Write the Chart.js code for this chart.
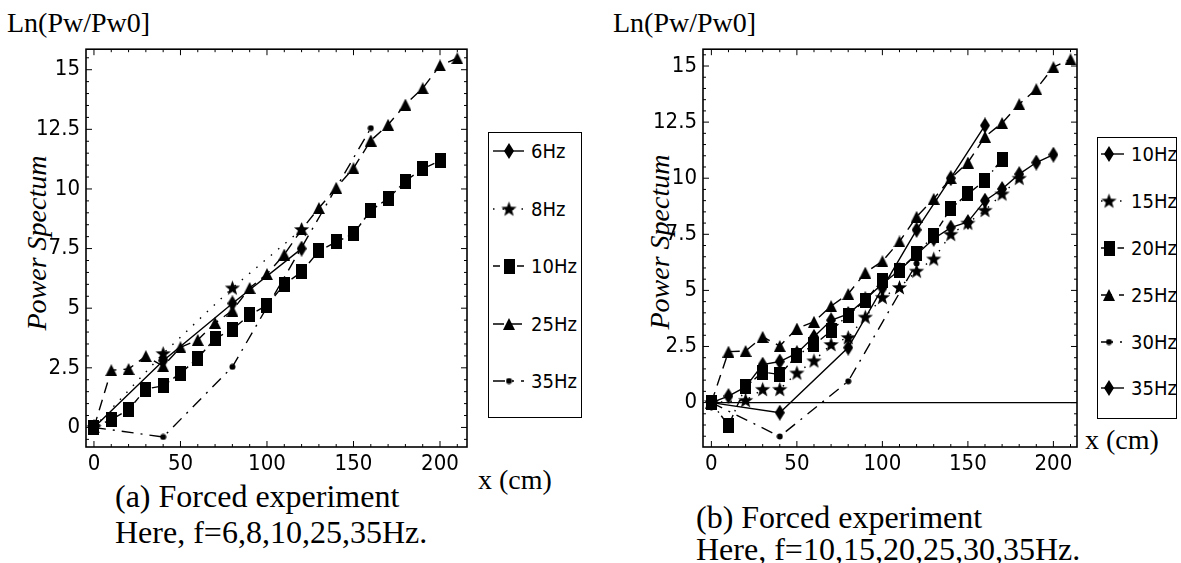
<!DOCTYPE html>
<html><head><meta charset="utf-8">
<script src="https://cdn.jsdelivr.net/npm/chart.js@4.4.0/dist/chart.umd.min.js"></script>
<style>
html,body{margin:0;padding:0;background:#fff}
body{width:1181px;height:563px;position:relative;overflow:hidden;font-family:'Liberation Serif','Times New Roman',serif;color:#000}
.abs{position:absolute;white-space:nowrap;line-height:1}
.t28{font-size:28px}
.t32{font-size:32px}
.ytitle{font-size:28px;font-style:italic;transform:translate(-50%,-50%) rotate(-90deg)}
.cv{position:absolute}
.legend{position:absolute;border:1.5px solid #000;background:#fff;box-sizing:border-box}
.legend canvas{position:absolute}
.legend span{position:absolute;font-family:'Liberation Sans Narrow','DejaVu Sans Condensed','DejaVu Sans Mono',sans-serif;font-size:20px;line-height:1;transform:translateY(-50%)}
</style>
</head><body>

<div class="abs t28" style="left:7px;top:9px">Ln(Pw/Pw0]</div>
<div class="abs t28" style="left:613px;top:9px">Ln(Pw/Pw0]</div>
<div class="abs ytitle" style="left:37px;top:243px">Power Spectum</div>
<div class="abs ytitle" style="left:660px;top:242px">Power Spectum</div>
<div class="abs t28" style="left:478px;top:466px">x (cm)</div>
<div class="abs t28" style="left:1085px;top:426px">x (cm)</div>
<div class="abs t32" style="left:115px;top:480px">(a) Forced experiment</div>
<div class="abs t32" style="left:115px;top:516px">Here, f=6,8,10,25,35Hz.</div>
<div class="abs t32" style="left:696px;top:501px">(b) Forced experiment</div>
<div class="abs t32" style="left:696px;top:533px">Here, f=10,15,20,25,30,35Hz.</div>

<canvas id="cA" class="cv" style="left:20px;top:30px" width="460" height="455"></canvas>
<canvas id="cB" class="cv" style="left:640px;top:30px" width="450" height="455"></canvas>
<div id="legA" class="legend" style="left:488px;top:132px;width:94px;height:286px"></div>
<div id="legB" class="legend" style="left:1097px;top:137px;width:80px;height:282px"></div>

<script>
// ---------------- DATA ----------------
// Panel (a)
const xTicks = [0, 50, 100, 150, 200];
const yTicks = [0, 2.5, 5, 7.5, 10, 12.5, 15];

const aX6  = [0, 40, 80, 120];
const aY6  = [0, 2.8, 5.2, 7.5];
const aX8  = [0, 40, 80, 120];
const aY8  = [0, 3.1, 5.85, 8.3];
const aX10 = [0,10,20,30,40,50,60,70,80,90,100,110,120,130,140,150,160,170,180,190,200];
const aY10 = [0,0.33,0.74,1.61,1.75,2.27,2.9,3.73,4.11,4.72,5.12,6.0,6.52,7.4,7.78,8.12,9.1,9.6,10.33,10.85,11.18];
const aX25 = [0,10,20,30,40,50,60,70,80,90,100,110,120,130,140,150,160,170,180,190,200,210];
const aY25 = [0,2.4,2.45,2.99,2.57,3.36,3.67,4.38,4.9,5.85,6.43,7.25,8.3,9.2,10.05,10.87,12.03,12.69,13.54,14.22,15.18,15.48];
const aX35 = [0, 40, 80, 160];
const aY35 = [0, -0.4, 2.54, 12.55];

// Panel (b)
const bX10 = [0, 40, 80, 100, 120, 140, 160];
const bY10 = [0, -0.45, 2.45, 5.1, 7.7, 10.0, 12.35];
const bX15 = [0,20,30,40,50,60,70,80,90,100,110,120,130,140,150,160,170,180];
const bY15 = [0,0.1,0.59,0.59,1.32,1.86,2.59,2.9,3.81,4.69,5.13,5.86,6.4,7.5,8.0,8.57,9.3,10.0];
const bX20 = [0,10,20,30,40,50,60,70,80,90,100,110,120,130,140,150,160,170];
const bY20 = [0,-1.02,0.7,1.36,1.25,2.1,2.57,3.2,3.9,4.55,5.45,5.9,6.64,7.45,8.65,9.3,9.9,10.85];
const bX25 = [0,10,20,30,40,50,60,70,80,90,100,110,120,130,140,150,160,170,180,190,200,210];
const bY25 = [0,2.27,2.3,2.93,2.52,3.3,3.6,4.3,4.84,5.79,6.3,7.18,8.28,9.08,10.0,10.7,11.85,12.46,13.3,13.97,14.95,15.3];
const bX30 = [0, 40, 80, 120];
const bY30 = [0, -1.51, 0.95, 6.2];
const bX35 = [0,10,20,30,40,50,60,70,80,90,100,110,120,130,140,150,160,170,180,190,200];
const bY35 = [0,0.29,0.7,1.69,1.83,2.2,2.93,3.67,3.95,4.6,5.3,5.9,6.6,7.3,7.8,8.05,9.0,9.52,10.18,10.7,11.05];
const bZeroX = [0, 214];
const bZeroY = [0, 0];

const labelsA = ['6Hz', '8Hz', '10Hz', '25Hz', '35Hz'];
const labelsB = ['10Hz', '15Hz', '20Hz', '25Hz', '30Hz', '35Hz'];

// ---------------- STYLE ----------------
function mk(w, h, draw) {
  const c = document.createElement('canvas'); c.width = w; c.height = h;
  const g = c.getContext('2d'); g.fillStyle = '#000'; draw(g, w, h); return c;
}
const M = {
  diamond: mk(10, 16, (g, w, h) => { g.beginPath(); g.moveTo(w/2, 0); g.lineTo(w, h/2); g.lineTo(w/2, h); g.lineTo(0, h/2); g.closePath(); g.fill(); }),
  star: mk(17, 17, (g) => { g.beginPath(); for (let i = 0; i < 10; i++) { const r = i % 2 ? 3.3 : 8; const a = -Math.PI/2 + i*Math.PI/5; const px = 8.5 + r*Math.cos(a), py = 9 + r*Math.sin(a); i ? g.lineTo(px, py) : g.moveTo(px, py); } g.closePath(); g.fill(); }),
  square: mk(11, 15, (g, w, h) => g.fillRect(0, 0, w, h)),
  triangle: mk(12, 12, (g, w, h) => { g.beginPath(); g.moveTo(w/2, 0); g.lineTo(w, h); g.lineTo(0, h); g.closePath(); g.fill(); }),
  dot: mk(7, 7, (g) => { g.beginPath(); g.arc(3.5, 3.5, 3, 0, Math.PI*2); g.fill(); }),
  none: false
};
const D = { solid: [], dotted: [1.5, 8], dashSq: [7, 5], dashed: [11, 7], dashdot: [12, 7, 2, 7], dotdash: [7, 4, 1.5, 4] };

function ds(label, xs, ys, marker, dash) {
  return {
    label, data: xs.map((x, i) => ({ x, y: ys[i] })),
    borderColor: '#000', backgroundColor: '#000', borderWidth: 1.4, borderDash: D[dash],
    pointStyle: M[marker] || 'circle', pointRadius: M[marker] ? 5 : 0, pointHoverRadius: 0,
    fill: false, tension: 0, showLine: true, _marker: marker, _dash: dash
  };
}

const setA = [
  ds(labelsA[0], aX6, aY6, 'diamond', 'solid'),
  ds(labelsA[1], aX8, aY8, 'star', 'dotted'),
  ds(labelsA[2], aX10, aY10, 'square', 'dashSq'),
  ds(labelsA[3], aX25, aY25, 'triangle', 'dashed'),
  ds(labelsA[4], aX35, aY35, 'dot', 'dashdot')
];
const setB = [
  ds(labelsB[0], bX10, bY10, 'diamond', 'solid'),
  ds(labelsB[1], bX15, bY15, 'star', 'dotted'),
  ds(labelsB[2], bX20, bY20, 'square', 'dotdash'),
  ds(labelsB[3], bX25, bY25, 'triangle', 'dashed'),
  ds(labelsB[4], bX30, bY30, 'dot', 'dashdot'),
  ds(labelsB[5], bX35, bY35, 'diamond', 'solid'),
  ds('', bZeroX, bZeroY, 'none', 'solid')
];

const framePlugin = {
  id: 'frame',
  afterDraw(chart) {
    const { ctx, chartArea: a, scales: { x, y } } = chart;
    ctx.save();
    ctx.strokeStyle = '#000'; ctx.setLineDash([]);
    ctx.lineWidth = 1.6;
    ctx.strokeRect(a.left, a.top, a.right - a.left, a.bottom - a.top);
    ctx.lineWidth = 1;
    ctx.beginPath();
    for (let k = Math.ceil(x.min / 10); k * 10 <= x.max; k++) {
      const px = x.getPixelForValue(k * 10), L = (k % 5 === 0) ? 6 : 3;
      ctx.moveTo(px, a.bottom); ctx.lineTo(px, a.bottom - L);
      ctx.moveTo(px, a.top); ctx.lineTo(px, a.top + L);
    }
    for (let k = Math.ceil(y.min / 0.5); k * 0.5 <= y.max; k++) {
      const py = y.getPixelForValue(k * 0.5), L = (k % 5 === 0) ? 6 : 3;
      ctx.moveTo(a.left, py); ctx.lineTo(a.left + L, py);
      ctx.moveTo(a.right, py); ctx.lineTo(a.right - L, py);
    }
    ctx.stroke();
    ctx.restore();
  }
};

const tickFont = { family: "'Liberation Sans Narrow','DejaVu Sans Condensed','DejaVu Sans Mono',sans-serif", size: 22 };

function makeChart(id, datasets, xr, yr, yWidth, padTop, padRight, xHeight) {
  return new Chart(document.getElementById(id), {
    type: 'line',
    data: { datasets },
    plugins: [framePlugin],
    options: {
      responsive: false, animation: false, events: [],
      layout: { padding: { left: 0, right: padRight, top: padTop, bottom: 0 } },
      plugins: { legend: { display: false }, tooltip: { enabled: false } },
      scales: {
        x: {
          type: 'linear', min: xr[0], max: xr[1],
          grid: { display: false, drawTicks: false }, border: { display: false },
          afterBuildTicks: s => { s.ticks = xTicks.map(v => ({ value: v })); },
          afterFit: s => { s.height = xHeight; },
          ticks: { color: '#000', font: tickFont, padding: 4, maxRotation: 0, autoSkip: false }
        },
        y: {
          type: 'linear', min: yr[0], max: yr[1],
          grid: { display: false, drawTicks: false }, border: { display: false },
          afterBuildTicks: s => { s.ticks = yTicks.map(v => ({ value: v })); },
          afterFit: s => { s.width = yWidth; },
          ticks: { color: '#000', font: tickFont, padding: 6, autoSkip: false }
        }
      }
    }
  });
}

makeChart('cA', setA, [-4.6, 215.6], [-0.82, 15.86], 66, 10, 13, 38);
makeChart('cB', setB, [-4.9, 213.8], [-1.98, 15.75], 63, 13, 13, 38);

function buildLegend(id, datasets, rows, lineX0, lineX1, markX, textX) {
  const box = document.getElementById(id);
  datasets.forEach((d, i) => {
    if (!d.label) return;
    const cy = rows[i];
    const c = document.createElement('canvas');
    c.width = lineX1 + 4; c.height = 24;
    c.style.left = '0px'; c.style.top = (cy - 12) + 'px';
    const g = c.getContext('2d');
    g.strokeStyle = '#000'; g.lineWidth = 1.4; g.setLineDash(d.borderDash);
    g.beginPath(); g.moveTo(lineX0, 12); g.lineTo(lineX1, 12); g.stroke();
    const m = M[d._marker];
    if (m) g.drawImage(m, markX - m.width / 2, 12 - m.height / 2);
    box.appendChild(c);
    const s = document.createElement('span');
    s.textContent = d.label; s.style.left = textX + 'px'; s.style.top = cy + 'px';
    box.appendChild(s);
  });
}
buildLegend('legA', setA, [18, 75.5, 133, 190.5, 248], 4, 35, 20, 42);
buildLegend('legB', setB, [16, 63, 110, 157, 204, 250], 3, 26, 11, 33);
</script>
</body></html>
